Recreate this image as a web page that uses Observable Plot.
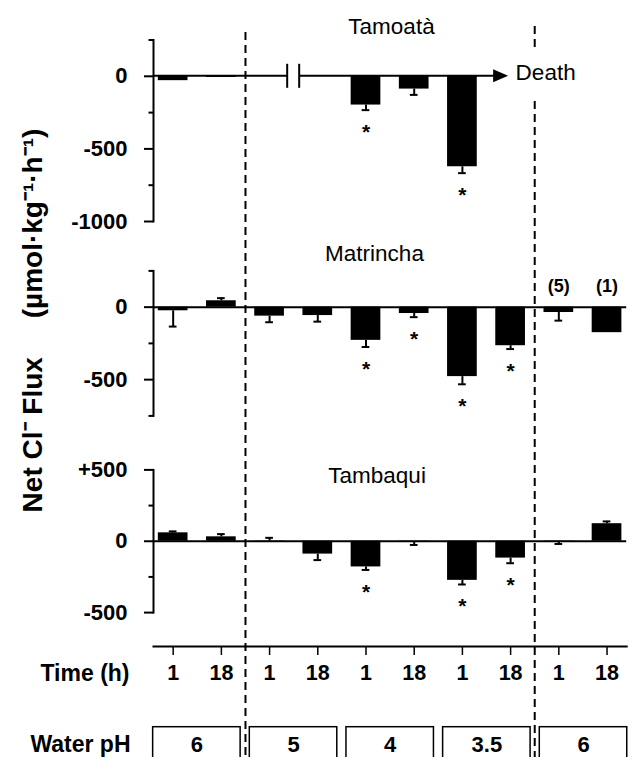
<!DOCTYPE html>
<html><head><meta charset="utf-8">
<script src="https://cdn.jsdelivr.net/npm/d3@7"></script>
<script src="https://cdn.jsdelivr.net/npm/@observablehq/plot@0.6"></script>
<style>
html,body{margin:0;padding:0;overflow:hidden;background:#fff;}
#fig{position:relative;width:629px;height:757px;overflow:hidden;background:#fff;}
</style></head><body><div id="fig"></div>
<script>
// ---- data ----
const conditions = ["pH6 1h","pH6 18h","pH5 1h","pH5 18h","pH4 1h","pH4 18h","pH3.5 1h","pH3.5 18h","pH6r 1h","pH6r 18h"];
const timeLabels = ["1","18","1","18","1","18","1","18","1","18"];

const tamoataValues = [-30, -8, null, null, -198, -88, -623, null, null, null];
const tamoataErrors = [null, null, null, null, 35, 40, 44, null, null, null];
const tamoataStars  = [0, 0, 0, 0, 1, 0, 1, 0, 0, 0];

const matrinchaValues = [-25, 44, -62, -58, -229, -44, -479, -266, -37, -176];
const matrinchaErrors = [109, 18, 42, 42, 46, 25, 53, 23, 56, null];
const matrinchaStars  = [0, 0, 0, 0, 1, 1, 1, 1, 0, 0];
const matrinchaN      = [null, null, null, null, null, null, null, null, "(5)", "(1)"];

const tambaquiValues = [59, 31, 2, -90, -180, -4, -274, -118, -3, 123];
const tambaquiErrors = [10, 19, 22, 42, 21, 22, 29, 36, 16, 16];
const tambaquiStars  = [0, 0, 0, 0, 1, 0, 1, 1, 0, 0];

const phGroups = ["g1","g2","g3","g4","g5"];
const phLabels = ["6","5","4","3.5","6"];

const titles = ["Tamoatà","Matrincha","Tambaqui"];
const deathLabel = "Death";
const timeTitle = "Time (h)";
const phTitle = "Water pH";
const yLabel = "Net Cl\u207B Flux\u00A0\u00A0\u00A0\u00A0\u00A0(µmol·kg\u207B\u00B9·h\u207B\u00B9)";
const breakBetween = ["pH5 1h","pH5 18h"];
const arrowTo = "pH3.5 18h";
const dividers = ["pH5 1h","pH6r 1h"];

// ---- layout ----
const W = 629, ML = 153, MR = 2.8;
const PI = 0.384, PO = 0.1;
const STEP = (W - ML - MR) / (conditions.length - PI + 2 * PO);
const FONT = "'Liberation Sans', Arial, Helvetica, sans-serif";
const X = {type: "band", domain: conditions, paddingInner: PI, paddingOuter: PO, align: 0.5, round: false};

function rows(values, errors, stars, notes) {
  return conditions.map((c, i) => ({
    c, v: values[i], e: errors[i], s: stars[i], n: notes ? notes[i] : null,
    end: values[i] == null ? null : values[i] + (errors[i] || 0) * (values[i] >= 0 ? 1 : -1)
  })).filter(d => d.v != null);
}

const fig = document.getElementById("fig");
function mount(chart, top) {
  chart.style.position = "absolute";
  chart.style.left = "0px";
  chart.style.top = top + "px";
  chart.style.margin = "0";
  fig.appendChild(chart);
}

function tamoataZero(index, scales, values, dims) {
  const {x, y} = scales;
  const bw = typeof x.bandwidth === "function" ? x.bandwidth() : 0;
  const cx = c => x(c) + bw / 2;
  const y0 = y(0);
  const left = dims.marginLeft;
  const brk = (cx(breakBetween[0]) + cx(breakBetween[1])) / 2;
  const tip = cx(arrowTo) - 2;
  const g = d3.create("svg:g").attr("stroke", "black").attr("stroke-width", 2);
  g.append("line").attr("x1", left).attr("x2", brk - 6).attr("y1", y0).attr("y2", y0);
  g.append("line").attr("x1", brk + 6).attr("x2", tip - 13).attr("y1", y0).attr("y2", y0);
  g.append("line").attr("x1", brk - 6).attr("x2", brk - 6).attr("y1", y0 - 12).attr("y2", y0 + 12);
  g.append("line").attr("x1", brk + 6).attr("x2", brk + 6).attr("y1", y0 - 12).attr("y2", y0 + 12);
  g.append("path").attr("d", `M${tip},${y0}L${tip - 15},${y0 - 6.5}L${tip - 15},${y0 + 6.5}Z`)
    .attr("fill", "black").attr("stroke", "none");
  return g.node();
}

function panel({top, height, mt, mb, domain, major, minor, fmt, data, title, tdx, tdy, zero, extra = []}) {
  const withErr = data.filter(d => d.e);
  const chart = Plot.plot({
    width: W, height, marginLeft: ML, marginRight: MR, marginTop: mt, marginBottom: mb,
    style: {fontFamily: FONT, background: "transparent"},
    x: {...X, axis: null},
    y: {domain, label: null},
    marks: [
      Plot.frame({anchor: "left", strokeWidth: 2}),
      Plot.axisY({ticks: minor, tickSize: 4.5, tickFormat: () => "", strokeWidth: 2, label: null}),
      Plot.axisY({ticks: major, tickSize: 9, tickPadding: 17, tickFormat: fmt, fontSize: 22, fontWeight: "bold", strokeWidth: 2, label: null}),
      zero,
      Plot.barY(data, {x: "c", y: "v", fill: "black"}),
      Plot.ruleX(withErr, {x: "c", y1: "v", y2: "end", strokeWidth: 2}),
      Plot.tickY(withErr, {x: "c", y: "end", insetLeft: 11, insetRight: 11, strokeWidth: 2}),
      Plot.text(data.filter(d => d.s), {x: "c", y: "end", text: () => "*", dy: 22, lineAnchor: "middle", fontSize: 21, fontWeight: "bold"}),
      Plot.text([title], {text: d => d, frameAnchor: "top", dx: tdx, dy: tdy, lineAnchor: "bottom", fontSize: 22.5}),
      ...extra
    ]
  });
  mount(chart, top);
}

const fmtPlain = d => String(d);
const fmtSigned = d => d > 0 ? "+" + d : String(d);

// Tamoatà
panel({
  top: 0, height: 240, mt: 39.5, mb: 19, domain: [-1000, 250],
  major: [0, -500, -1000], minor: [250, -250, -750], fmt: fmtPlain,
  data: rows(tamoataValues, tamoataErrors, tamoataStars), title: titles[0], tdx: 1.4, tdy: -5.8,
  zero: tamoataZero,
  extra: [Plot.text([deathLabel], {x: () => arrowTo, y: () => 0, text: d => d, textAnchor: "start", dx: 5, dy: -3.5, lineAnchor: "middle", fontSize: 22.5})]
});

// Matrincha
const mRows = rows(matrinchaValues, matrinchaErrors, matrinchaStars, matrinchaN);
panel({
  top: 240, height: 200, mt: 30.4, mb: 24.6, domain: [-750, 250],
  major: [0, -500], minor: [250, -250, -750], fmt: fmtPlain,
  data: mRows, title: titles[1], tdx: -15.6, tdy: -10.2,
  zero: Plot.ruleY([0], {strokeWidth: 2}),
  extra: [Plot.text(mRows.filter(d => d.n), {x: "c", y: () => 0, text: "n", dy: -21, lineAnchor: "middle", fontSize: 18, fontWeight: "bold"})]
});

// Tambaqui
panel({
  top: 440, height: 190, mt: 29.4, mb: 17.9, domain: [-500, 500],
  major: [500, 0, -500], minor: [250, -250], fmt: fmtSigned,
  data: rows(tambaquiValues, tambaquiErrors, tambaquiStars), title: titles[2], tdx: -13, tdy: 12.8,
  zero: Plot.ruleY([0], {strokeWidth: 2})
});

// Time axis
mount(Plot.plot({
  width: W, height: 75, marginLeft: ML, marginRight: MR, marginTop: 0, marginBottom: 59,
  style: {fontFamily: FONT, background: "transparent"},
  x: X,
  marks: [
    Plot.frame({anchor: "bottom", strokeWidth: 2}),
    Plot.axisX({anchor: "bottom", tickSize: 9, tickPadding: 9, tickFormat: c => timeLabels[conditions.indexOf(c)], fontSize: 21.5, fontWeight: "bold", strokeWidth: 1.5, label: null}),
    Plot.text([timeTitle], {text: d => d, frameAnchor: "bottom-left", dx: -24, dy: 18, textAnchor: "end", lineAnchor: "top", fontSize: 23, fontWeight: "bold"})
  ]
}), 630);

// Water pH boxes
mount(Plot.plot({
  width: W, height: 70, marginLeft: 152, marginRight: 1.6, marginTop: 21.7, marginBottom: 0,
  style: {fontFamily: FONT, background: "transparent"},
  x: {type: "band", domain: phGroups, paddingInner: 0.095, paddingOuter: 0.0067, round: false, axis: null},
  marks: [
    Plot.cell(phGroups, {x: d => d, stroke: "black", fill: "white", strokeWidth: 1.5}),
    Plot.text(phGroups, {x: d => d, text: (d, i) => phLabels[i], frameAnchor: "top", dy: 17.5, lineAnchor: "middle", fontSize: 22, fontWeight: "bold"}),
    Plot.text([phTitle], {text: d => d, frameAnchor: "top-left", dx: -22, dy: 17.5, textAnchor: "end", lineAnchor: "middle", fontSize: 23, fontWeight: "bold"})
  ]
}), 705);

// Overlay: dashed dividers and y label
const dash = {stroke: "black", strokeWidth: 2, strokeDasharray: "8,5", dx: -STEP / 2};
const overlay = Plot.plot({
  width: W, height: 757, marginLeft: ML, marginRight: MR, marginTop: 0, marginBottom: 0,
  style: {fontFamily: FONT, background: "transparent"},
  x: {...X, axis: null},
  marks: [
    Plot.ruleX([dividers[0]], {...dash, insetTop: 32}),
    Plot.ruleX([dividers[1]], {...dash, insetTop: 26, insetBottom: 757 - 47}),
    Plot.ruleX([dividers[1]], {...dash, insetTop: 101}),
    Plot.text([yLabel], {text: d => d, frameAnchor: "top-left", dx: -111.3, dy: 320, rotate: -90, textAnchor: "middle", lineAnchor: "bottom", fontSize: 28, fontWeight: "bold"})
  ]
});
overlay.style.pointerEvents = "none";
mount(overlay, 0);
</script>
</body></html>
